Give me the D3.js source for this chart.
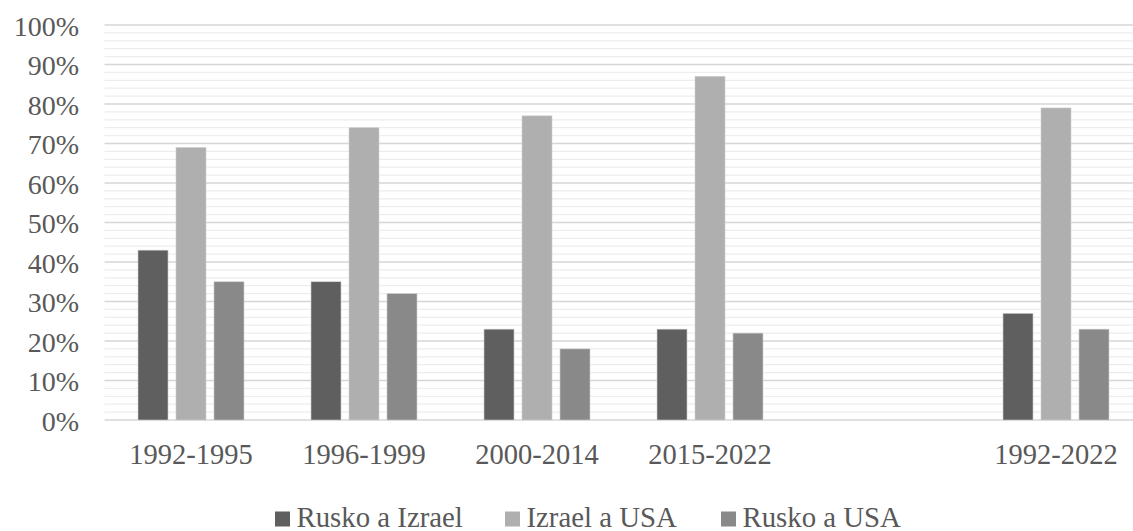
<!DOCTYPE html>
<html>
<head>
<meta charset="utf-8">
<script src="https://cdn.jsdelivr.net/npm/d3@7"></script>
</head>
<body style="margin:0">
<div id="graf"></div>
<script>
// Datos
const categorias = ["1992-1995", "1996-1999", "2000-2014", "2015-2022", "", "1992-2022"];
const ruskoIzrael = [43, 35, 23, 23, null, 27];
const izraelUsa = [69, 74, 77, 87, null, 79];
const ruskoUsa = [35, 32, 18, 22, null, 23];
const series = ["Rusko a Izrael", "Izrael a USA", "Rusko a USA"];
const colores = ["#5f5f5f", "#afafaf", "#898989"];
const yTicks = [0, 10, 20, 30, 40, 50, 60, 70, 80, 90, 100];

const fuente = "'Liberation Serif', 'Times New Roman', Times, serif";
const colorTexto = "#595959";

const anchoTotal = 1133, altoTotal = 531;
const margins = { top: 25, left: 104.5, bottom: 111 };
const plotRight = 1142.5;

const svg = d3.select("#graf").append("svg")
    .attr("width", anchoTotal)
    .attr("height", altoTotal)
    .attr("font-family", fuente)
    .style("display", "block");

// Escaladores
const y = d3.scaleLinear().domain([0, 100]).range([altoTotal - margins.bottom, margins.top]);
const x = d3.scaleBand().domain(categorias).range([margins.left, plotRight]);
const xSub = d3.scaleBand().domain(series).range([0, 106]).paddingInner(0.21);

// Lineas de cuadricula (menores cada 2%, mayores cada 10%)
const grid = svg.append("g");
grid.selectAll("line")
    .data(d3.range(0, 101, 2))
    .join("line")
    .attr("x1", margins.left)
    .attr("x2", anchoTotal)
    .attr("y1", (d) => y(d))
    .attr("y2", (d) => y(d))
    .attr("stroke", (d) => (d % 10 === 0 ? "#d6d6d6" : "#ededed"))
    .attr("stroke-width", (d) => (d % 10 === 0 ? 1.5 : 1.2));

// Barras
const tabla = categorias.map((c, i) => ({
    cat: c,
    vals: [ruskoIzrael[i], izraelUsa[i], ruskoUsa[i]],
}));
const grupos = svg.append("g").selectAll("g")
    .data(tabla)
    .join("g")
    .attr("transform", (d) => `translate(${x(d.cat) + x.bandwidth() / 2 - 53},0)`);
grupos.selectAll("rect")
    .data((d) => d.vals.map((v, j) => ({ serie: series[j], v, j })).filter((e) => e.v != null))
    .join("rect")
    .attr("x", (d) => xSub(d.serie))
    .attr("width", xSub.bandwidth())
    .attr("y", (d) => y(d.v))
    .attr("height", (d) => y(0) - y(d.v))
    .attr("fill", (d) => colores[d.j])
    .attr("stroke", "#d0d0d0")
    .attr("stroke-width", 0.6);

// Ejes
const yAxis = svg.append("g")
    .attr("transform", `translate(79,0)`)
    .call(d3.axisLeft(y).tickValues(yTicks).tickSize(0).tickPadding(0).tickFormat((d) => d + "%"))
    .attr("font-family", fuente);
yAxis.select(".domain").remove();
yAxis.selectAll("text")
    .attr("font-family", fuente)
    .attr("fill", colorTexto)
    .attr("font-size", 28)
    .attr("dy", "0.36em")
    .attr("y", 0);

const xAxis = svg.append("g")
    .attr("transform", `translate(0,${y(0)})`)
    .call(d3.axisBottom(x).tickSize(0).tickPadding(0))
    .attr("font-family", fuente);
xAxis.select(".domain").remove();
xAxis.selectAll("text")
    .attr("font-family", fuente)
    .attr("fill", colorTexto)
    .attr("font-size", 28.5)
    .attr("dy", 0)
    .attr("y", 44);

// Leyenda
const leyendaX = [275, 505, 721];
const leyenda = svg.append("g").selectAll("g")
    .data(series)
    .join("g")
    .attr("transform", (d, i) => `translate(${leyendaX[i]},0)`);
leyenda.append("rect")
    .attr("y", 511.5)
    .attr("width", 15)
    .attr("height", 15)
    .attr("fill", (d, i) => colores[i]);
leyenda.append("text")
    .attr("x", 21.5)
    .attr("y", 526.5)
    .attr("font-family", fuente)
    .attr("fill", colorTexto)
    .attr("font-size", 28.8)
    .text((d) => d);
</script>
</body>
</html>
